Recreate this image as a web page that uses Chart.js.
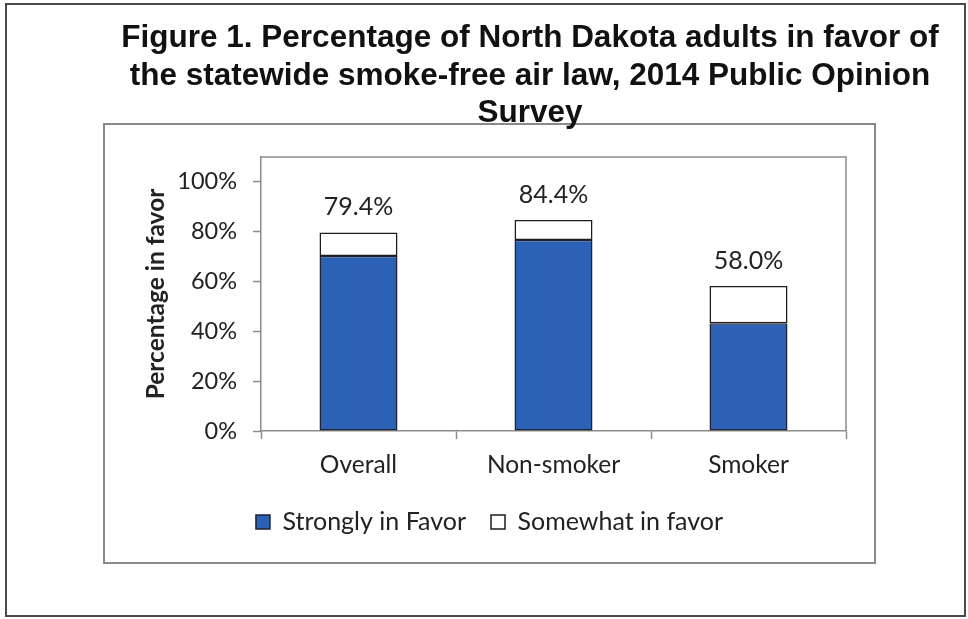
<!DOCTYPE html>
<html>
<head>
<meta charset="utf-8">
<script src="https://cdn.jsdelivr.net/npm/chart.js@4/dist/chart.umd.min.js"></script>
<style>
  html, body { margin: 0; padding: 0; background: #fff; }
  body { width: 968px; height: 619px; position: relative; overflow: hidden; }
  #frame {
    position: absolute; left: 5px; top: 3px; width: 961px; height: 614px;
    border: 2px solid #4a4a4a; box-sizing: border-box;
  }
  #title {
    position: absolute; left: 80px; width: 900px; top: 18px; z-index: 2;
    font-family: "Liberation Sans", Arial, sans-serif; font-weight: bold;
    font-size: 31.5px; line-height: 37.5px; text-align: center; color: #111;
  }
  #box {
    position: absolute; left: 103px; top: 123px; width: 773px; height: 441px;
    border: 2px solid #8a8a8a; box-sizing: border-box; background: #fff; z-index: 1;
  }
  #box canvas { display: block; }
</style>
</head>
<body>
<div id="frame"></div>
<div id="title">Figure 1. Percentage of North Dakota adults in favor of<br>the statewide smoke-free air law, 2014 Public Opinion<br>Survey</div>
<div id="box"><canvas id="chart" width="769" height="437"></canvas></div>
<script>
// Survey groups and shares of adults in favor (percent)
const categories = ["Overall", "Non-smoker", "Smoker"];
const stronglyInFavor = [70.0, 76.4, 43.1];
const somewhatInFavor = [9.4, 8.0, 14.9];
const yTickValues = [0, 20, 40, 60, 80, 100];

const FONT = "Lato, 'Open Sans', sans-serif";
const TEXT = "#222";
const AXIS = "#8c8c8c";

// Plot-area frame (top and right edges; left/bottom come from the axes)
const plotFrame = {
  id: "plotFrame",
  beforeDatasetsDraw(chart) {
    const { ctx, chartArea: a } = chart;
    ctx.save();
    ctx.strokeStyle = AXIS;
    ctx.lineWidth = 1.5;
    ctx.beginPath();
    ctx.moveTo(a.left, a.top);
    ctx.lineTo(a.right, a.top);
    ctx.lineTo(a.right, a.bottom);
    ctx.stroke();
    ctx.restore();
  }
};

// Total percentage printed above each stacked bar
const totalLabels = {
  id: "totalLabels",
  afterDatasetsDraw(chart) {
    const { ctx, scales } = chart;
    const meta = chart.getDatasetMeta(0);
    ctx.save();
    ctx.font = "25px " + FONT;
    ctx.fillStyle = TEXT;
    ctx.textAlign = "center";
    ctx.textBaseline = "middle";
    categories.forEach((c, i) => {
      const total = stronglyInFavor[i] + somewhatInFavor[i];
      const x = meta.data[i].x;
      const y = scales.y.getPixelForValue(total) - 25.5;
      ctx.fillText(total.toFixed(1) + "%", x, y);
    });
    ctx.restore();
  }
};

new Chart(document.getElementById("chart"), {
  type: "bar",
  data: {
    labels: categories,
    datasets: [
      {
        label: "Strongly in Favor",
        data: stronglyInFavor,
        backgroundColor: "#2c62b6",
        borderColor: "#1c2233",
        borderWidth: 1.5,
        borderSkipped: false
      },
      {
        label: "Somewhat in favor",
        data: somewhatInFavor,
        backgroundColor: "#ffffff",
        borderColor: "#1c1c1c",
        borderWidth: 1.5,
        borderSkipped: false
      }
    ]
  },
  options: {
    responsive: false,
    animation: false,
    devicePixelRatio: 1,
    categoryPercentage: 0.4,
    barPercentage: 1.0,
    layout: { padding: { top: 32, right: 28, left: 28, bottom: 17.5 } },
    scales: {
      x: {
        stacked: true,
        offset: true,
        afterFit(scale) { scale.height = 53.5; },
        grid: { offset: true, drawOnChartArea: false, color: AXIS, tickLength: 8, tickWidth: 1.5 },
        border: { color: AXIS, width: 1.5 },
        ticks: { color: TEXT, font: { family: FONT, size: 24.5 }, padding: 11 }
      },
      y: {
        stacked: true,
        min: 0,
        max: 109.6,
        afterBuildTicks(scale) { scale.ticks = yTickValues.map(v => ({ value: v })); },
        afterFit(scale) { scale.width = 128; },
        grid: { drawOnChartArea: false, color: AXIS, tickLength: 8, tickWidth: 1.5 },
        border: { color: AXIS, width: 1.5 },
        ticks: {
          color: TEXT, font: { family: FONT, size: 23.5 }, padding: 16,
          callback: v => v + "%"
        },
        title: {
          display: true, text: "Percentage in favor", color: TEXT,
          font: { family: FONT, size: 24.5, weight: "bold" }, padding: { top: 8, bottom: 0 }
        }
      }
    },
    plugins: {
      legend: {
        position: "bottom",
        labels: {
          color: TEXT, font: { family: FONT, size: 25 },
          boxWidth: 14, boxHeight: 14, padding: 25,
          generateLabels(chart) {
            return chart.data.datasets.map((d, i) => ({
              text: d.label, fillStyle: d.backgroundColor, strokeStyle: d.borderColor,
              lineWidth: 1.5, datasetIndex: i, fontColor: TEXT
            }));
          }
        }
      },
      tooltip: { enabled: false }
    }
  },
  plugins: [plotFrame, totalLabels]
});
</script>
</body>
</html>
